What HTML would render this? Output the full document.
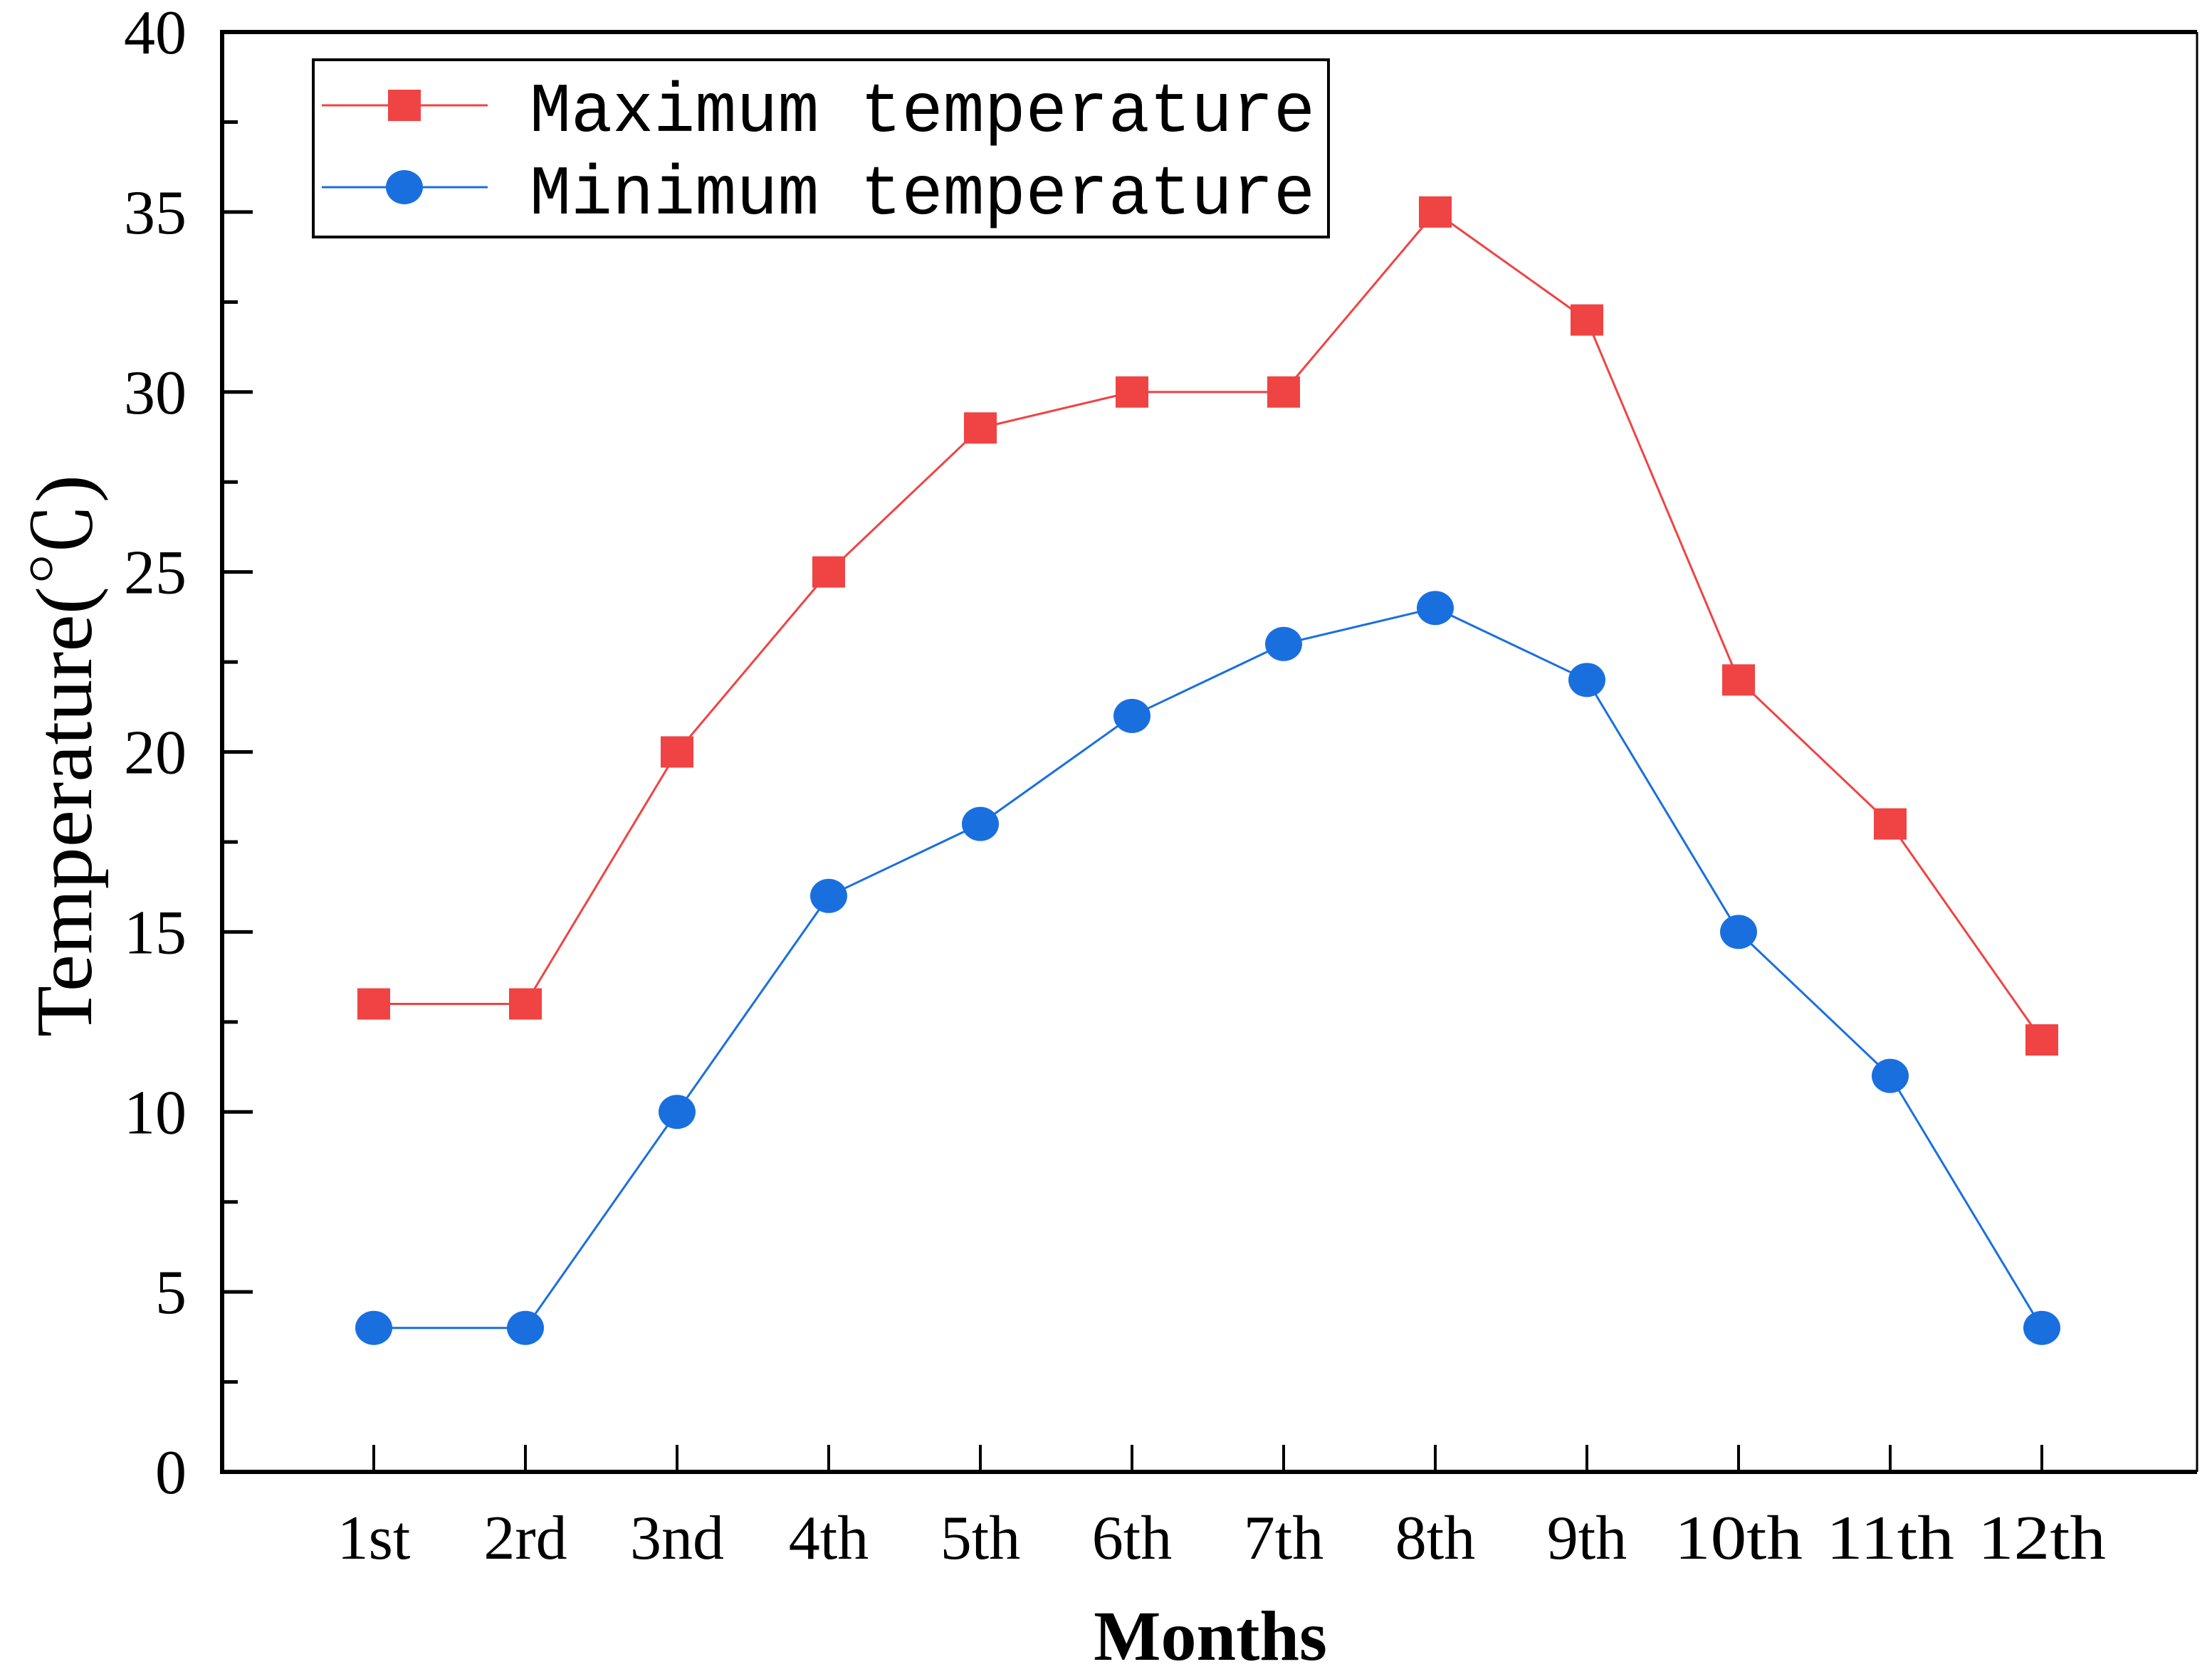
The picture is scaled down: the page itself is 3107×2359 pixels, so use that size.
<!DOCTYPE html>
<html><head><meta charset="utf-8"><style>
html,body{margin:0;padding:0;background:#fff}
svg{display:block}
</style></head><body>
<svg id="chart" width="3107" height="2359" viewBox="0 0 3107 2359" xmlns="http://www.w3.org/2000/svg">
<g id="plot"></g>
</svg>
<script>
const categories = ["1st","2rd","3nd","4th","5th","6th","7th","8th","9th","10th","11th","12th"];
const maxTemps = [13,13,20,25,29,30,30,35,32,22,18,12];
const minTemps = [4,4,10,16,18,21,23,24,22,15,11,4];
const yTicks = [0,5,10,15,20,25,30,35,40];

const NS = "http://www.w3.org/2000/svg";
const plot = document.getElementById('plot');
const L = 312, R = 3086, T = 45, B = 2068;
const x0 = 525, dx = 213;
function xs(i){ return x0 + i*dx; }
function ys(v){ return B - (v/40)*(B-T); }
function mk(tag, attrs, parent){
  const e = document.createElementNS(NS, tag);
  for (const k in attrs) e.setAttribute(k, attrs[k]);
  (parent||plot).appendChild(e);
  return e;
}

let e;
e = mk('line',{x1:L,y1:T,x2:R,y2:T,stroke:'#000','stroke-width':6});
 
e = mk('line',{x1:R,y1:T,x2:R,y2:B,stroke:'#000','stroke-width':3});
 
e = mk('line',{x1:L,y1:T-3,x2:L,y2:B+3,stroke:'#000','stroke-width':6});
 
e = mk('line',{x1:L-3,y1:B,x2:R,y2:B,stroke:'#000','stroke-width':6});
 

yTicks.forEach((v,i)=>{
  const y = ys(v);
  if (v>0 && v<40) {
    const t = mk('line',{x1:L,y1:y,x2:L+43,y2:y,stroke:'#000','stroke-width':5});
     
  }
  if (i < yTicks.length-1) {
    const ym = ys(v+2.5);
    const m = mk('line',{x1:L,y1:ym,x2:L+22,y2:ym,stroke:'#000','stroke-width':5});
     
  }
  const lab = mk('text',{x:262,y:y+30,'text-anchor':'end','font-family':'Liberation Serif, serif','font-size':88,fill:'#000'});
  lab.textContent = v;
   
});

categories.forEach((c,i)=>{
  const x = xs(i);
  const t = mk('line',{x1:x,y1:B,x2:x,y2:B-38,stroke:'#000','stroke-width':4});
   
  const lab = mk('text',{x:x,y:2190,'text-anchor':'middle','font-family':'Liberation Serif, serif','font-size':88,fill:'#000'});
  if (c.length>3) { lab.setAttribute('textLength',180); lab.setAttribute('lengthAdjust','spacingAndGlyphs'); }
  lab.textContent = c;
   
});

e = mk('text',{x:1700,y:2332,'text-anchor':'middle','font-family':'Liberation Serif, serif','font-size':100,'font-weight':'bold',fill:'#000'});
e.textContent = 'Months';
 
e = mk('text',{x:0,y:0,'text-anchor':'middle','font-family':'Liberation Serif, "Noto Serif CJK SC", serif','font-size':112,fill:'#000',textLength:790,lengthAdjust:'spacingAndGlyphs',transform:'translate(128,1062) rotate(-90)'});
e.textContent = 'Temperature(℃)';
 

function series(vals, color, shape, name){
  const g = mk('g',{});
  
  
  const pts = vals.map((v,i)=>xs(i)+','+ys(v)).join(' ');
  const pl = mk('polyline',{points:pts,fill:'none',stroke:color,'stroke-width':3},g);
   
  vals.forEach((v,i)=>{
    let m;
    if (shape==='square') m = mk('rect',{x:xs(i)-23,y:ys(v)-22,width:46,height:44,fill:color},g);
    else m = mk('ellipse',{cx:xs(i),cy:ys(v),rx:26,ry:24,fill:color},g);
     
  });
}
series(maxTemps,'#f04343','square','max-temperature-series');
series(minTemps,'#1a6fdf','circle','min-temperature-series');

const lg = mk('g',{});
 
e = mk('rect',{x:440,y:84,width:1426,height:249,fill:'#fff',stroke:'#000','stroke-width':4},lg);
 
e = mk('line',{x1:452,y1:148,x2:685,y2:148,stroke:'#f04343','stroke-width':3},lg);
 
e = mk('rect',{x:545,y:126,width:46,height:44,fill:'#f04343'},lg);
 
e = mk('line',{x1:452,y1:263,x2:685,y2:263,stroke:'#1a6fdf','stroke-width':3},lg);
 
e = mk('ellipse',{cx:568,cy:263,rx:26,ry:24,fill:'#1a6fdf'},lg);
 
e = mk('text',{x:744,y:184,'font-family':'Liberation Mono, monospace','font-size':98,fill:'#000',textLength:1103,lengthAdjust:'spacingAndGlyphs'},lg);
e.textContent = 'Maximum temperature';
 
e = mk('text',{x:744,y:300,'font-family':'Liberation Mono, monospace','font-size':98,fill:'#000',textLength:1103,lengthAdjust:'spacingAndGlyphs'},lg);
e.textContent = 'Minimum temperature';
 
</script>
</body></html>
